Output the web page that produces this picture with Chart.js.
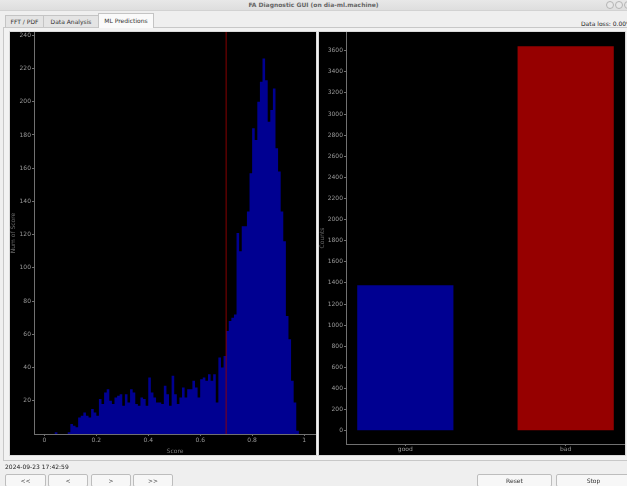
<!DOCTYPE html>
<html>
<head>
<meta charset="utf-8">
<title>FA Diagnostic GUI</title>
<script src="https://cdn.jsdelivr.net/npm/chart.js@4.4.0/dist/chart.umd.min.js"></script>
<style>
  body { margin: 0; width: 627px; height: 486px; overflow: hidden; background: #efefef;
         font-family: "DejaVu Sans", sans-serif; position: relative; }
  .titlebar { position: absolute; left: 0; top: 0; width: 627px; height: 10px;
              background: linear-gradient(#e8e8e8, #dedede); border-bottom: 1px solid #d2d2d2;
              font-size: 6px; font-weight: bold; color: #666; text-align: center; line-height: 10px; }
  .winbtn { position: absolute; top: 1px; width: 6px; height: 6px; border-radius: 50%;
            border: 1px solid #b4b4b4; background: #e8e8e8; }
  .tab { position: absolute; top: 15px; height: 11px; border: 1px solid #c4c4c4; border-bottom: none;
         background: #e4e4e4; font-size: 6px; line-height: 11px; text-align: center; color: #333; }
  .tab.active { top: 13px; height: 14px; background: #fafafa; line-height: 14px; }
  .pane { position: absolute; left: 3px; top: 27px; width: 630px; height: 432px;
          border: 1px solid #c8c8c8; background: #f2f2f2; }
  .panel { position: absolute; top: 32px; width: 306px; height: 423px; background: #000;
           outline: 1px solid #dadada; }
  .status { position: absolute; font-size: 6px; color: #222; }
  .btn { position: absolute; top: 474px; height: 11px; border: 1px solid #bdbdbd; border-radius: 2px;
         background: #f7f7f7; font-size: 6px; line-height: 11px; text-align: center; color: #333; }
</style>
</head>
<body>
<div class="titlebar">FA Diagnostic GUI (on dia-ml.machine)</div>
<div class="winbtn" style="left:606px"></div>
<div class="winbtn" style="left:615px"></div>
<div class="winbtn" style="left:624px"></div>

<div class="pane"></div>
<div class="tab" style="left:5px; width:37px">FFT / PDF</div>
<div class="tab" style="left:43px; width:54px">Data Analysis</div>
<div class="tab active" style="left:98px; width:54px">ML Predictions</div>
<div class="status" style="left:581px; top:20px; white-space:nowrap">Data loss: 0.00%</div>

<div class="panel" style="left:10px"><canvas id="histChart"></canvas></div>
<div class="panel" style="left:319px"><canvas id="countChart"></canvas></div>

<div class="status" style="left:5px; top:463px">2024-09-23 17:42:59</div>
<div class="btn" style="left:5px; width:39px">&lt;&lt;</div>
<div class="btn" style="left:48px; width:38px">&lt;</div>
<div class="btn" style="left:91px; width:38px">&gt;</div>
<div class="btn" style="left:133px; width:38px">&gt;&gt;</div>
<div class="btn" style="left:477px; width:73px">Reset</div>
<div class="btn" style="left:556px; width:73px">Stop</div>

<script>
'use strict';

// histogram of ML scores, bins of width 0.01 (left edges)
const binEdges = [
  0.00, 0.01, 0.02, 0.03, 0.04, 0.05, 0.06, 0.07, 0.08, 0.09,
  0.10, 0.11, 0.12, 0.13, 0.14, 0.15, 0.16, 0.17, 0.18, 0.19,
  0.20, 0.21, 0.22, 0.23, 0.24, 0.25, 0.26, 0.27, 0.28, 0.29,
  0.30, 0.31, 0.32, 0.33, 0.34, 0.35, 0.36, 0.37, 0.38, 0.39,
  0.40, 0.41, 0.42, 0.43, 0.44, 0.45, 0.46, 0.47, 0.48, 0.49,
  0.50, 0.51, 0.52, 0.53, 0.54, 0.55, 0.56, 0.57, 0.58, 0.59,
  0.60, 0.61, 0.62, 0.63, 0.64, 0.65, 0.66, 0.67, 0.68, 0.69,
  0.70, 0.71, 0.72, 0.73, 0.74, 0.75, 0.76, 0.77, 0.78, 0.79,
  0.80, 0.81, 0.82, 0.83, 0.84, 0.85, 0.86, 0.87, 0.88, 0.89,
  0.90, 0.91, 0.92, 0.93, 0.94, 0.95, 0.96, 0.97, 0.98, 0.99, 1.00
];
const binCounts = [
  0, 0, 0, 0, 1, 0, 0, 0, 0, 1,
  6, 5, 4, 10, 11, 13, 11, 10, 15, 13,
  11, 21, 18, 25, 27, 20, 18, 22, 23, 24,
  17, 24, 19, 27, 25, 18, 17, 22, 21, 17,
  34, 25, 22, 19, 19, 18, 29, 24, 17, 35,
  24, 18, 22, 28, 22, 27, 27, 32, 28, 22,
  33, 34, 32, 36, 32, 36, 19, 46, 40, 47,
  62, 68, 70, 72, 121, 110, 125, 125, 134, 157,
  184, 177, 200, 212, 226, 213, 188, 195, 208, 172,
  158, 134, 116, 71, 57, 32, 19, 2, 0, 0, 0
];
const threshold = 0.7;
const histXTicks = [0, 0.2, 0.4, 0.6, 0.8, 1];
const histYTicks = [20, 40, 60, 80, 100, 120, 140, 160, 180, 200, 220, 240];

// good / bad counts
const classes = ['good', 'bad'];
const classCounts = [1377, 3643];
const classColors = ['rgb(0,0,145)', 'rgb(150,0,0)'];
const countYTicks = [0, 200, 400, 600, 800, 1000, 1200, 1400, 1600, 1800,
  2000, 2200, 2400, 2600, 2800, 3000, 3200, 3400, 3600];

const tickFont = { family: 'DejaVu Sans', size: 6 };
const tickColor = '#9a9a9a';
const axisColor = '#707070';

function fixedAxis(size) {
  return function (scale) {
    if (scale.isHorizontal()) {
      scale.height = size;
    } else {
      scale.width = size;
    }
    scale.paddingTop = 0;
    scale.paddingBottom = 0;
    scale.paddingLeft = 0;
    scale.paddingRight = 0;
  };
}

function setTicks(values) {
  return function (scale) {
    scale.ticks = values.map(v => ({ value: v }));
  };
}

Chart.defaults.animation = false;

const histMin = 0;
const histMax = 242;

new Chart(document.getElementById('histChart'), {
  type: 'line',
  data: {
    datasets: [{
      label: 'threshold',
      data: [{ x: threshold, y: histMin }, { x: threshold, y: histMax }],
      borderColor: 'rgba(150,0,0,0.75)',
      borderWidth: 1.2,
      pointRadius: 0,
      order: 0
    }, {
      label: 'Num of Score',
      data: binEdges.map((e, i) => ({ x: e, y: binCounts[i] })),
      stepped: 'before',
      fill: 'origin',
      backgroundColor: 'rgb(0,0,145)',
      borderColor: 'rgb(0,0,145)',
      borderWidth: 0,
      pointRadius: 0,
      order: 1
    }]
  },
  options: {
    responsive: true,
    maintainAspectRatio: false,
    layout: { padding: 0 },
    plugins: { legend: { display: false }, tooltip: { enabled: false } },
    scales: {
      x: {
        type: 'linear',
        min: -0.04,
        max: 1.046,
        afterBuildTicks: setTicks(histXTicks),
        afterFit: fixedAxis(21),
        ticks: { font: tickFont, color: tickColor, padding: 1, maxRotation: 0,
                 callback: v => String(v) },
        grid: { drawOnChartArea: false, color: axisColor, tickLength: 2 },
        border: { color: axisColor },
        title: { display: true, text: 'Score', font: tickFont, color: '#7a7a7a',
                 padding: { top: 0, bottom: 0 } }
      },
      y: {
        min: histMin,
        max: histMax,
        afterBuildTicks: setTicks(histYTicks),
        afterFit: fixedAxis(24),
        ticks: { font: tickFont, color: tickColor, padding: 1, callback: v => String(v) },
        grid: { drawOnChartArea: false, color: axisColor, tickLength: 2 },
        border: { color: axisColor },
        title: { display: true, text: 'Num of Score', font: tickFont, color: '#6a6a6a',
                 padding: { top: 0, bottom: 0 } }
      }
    }
  }
});

new Chart(document.getElementById('countChart'), {
  type: 'bar',
  data: {
    datasets: [{
      label: 'Counts',
      data: classes.map((c, i) => ({ x: i, y: classCounts[i] })),
      backgroundColor: classColors,
      borderWidth: 0,
      categoryPercentage: 1,
      barPercentage: 0.6
    }]
  },
  options: {
    responsive: true,
    maintainAspectRatio: false,
    layout: { padding: 0 },
    plugins: { legend: { display: false }, tooltip: { enabled: false } },
    scales: {
      x: {
        type: 'linear',
        offset: false,
        min: -0.37,
        max: 1.37,
        afterBuildTicks: setTicks(classes.map((c, i) => i)),
        afterFit: fixedAxis(11),
        ticks: { font: tickFont, color: tickColor, padding: 0, maxRotation: 0,
                 callback: v => classes[v] },
        grid: { offset: false, drawOnChartArea: false, color: axisColor, tickLength: 2 },
        border: { color: axisColor }
      },
      y: {
        min: -126,
        max: 3777,
        afterBuildTicks: setTicks(countYTicks),
        afterFit: fixedAxis(27),
        ticks: { font: tickFont, color: tickColor, padding: 1, callback: v => String(v) },
        grid: { drawOnChartArea: false, color: axisColor, tickLength: 2 },
        border: { color: axisColor },
        title: { display: true, text: 'Counts', font: tickFont, color: '#6a6a6a',
                 padding: { top: 0, bottom: 0 } }
      }
    }
  }
});
</script>
</body>
</html>
